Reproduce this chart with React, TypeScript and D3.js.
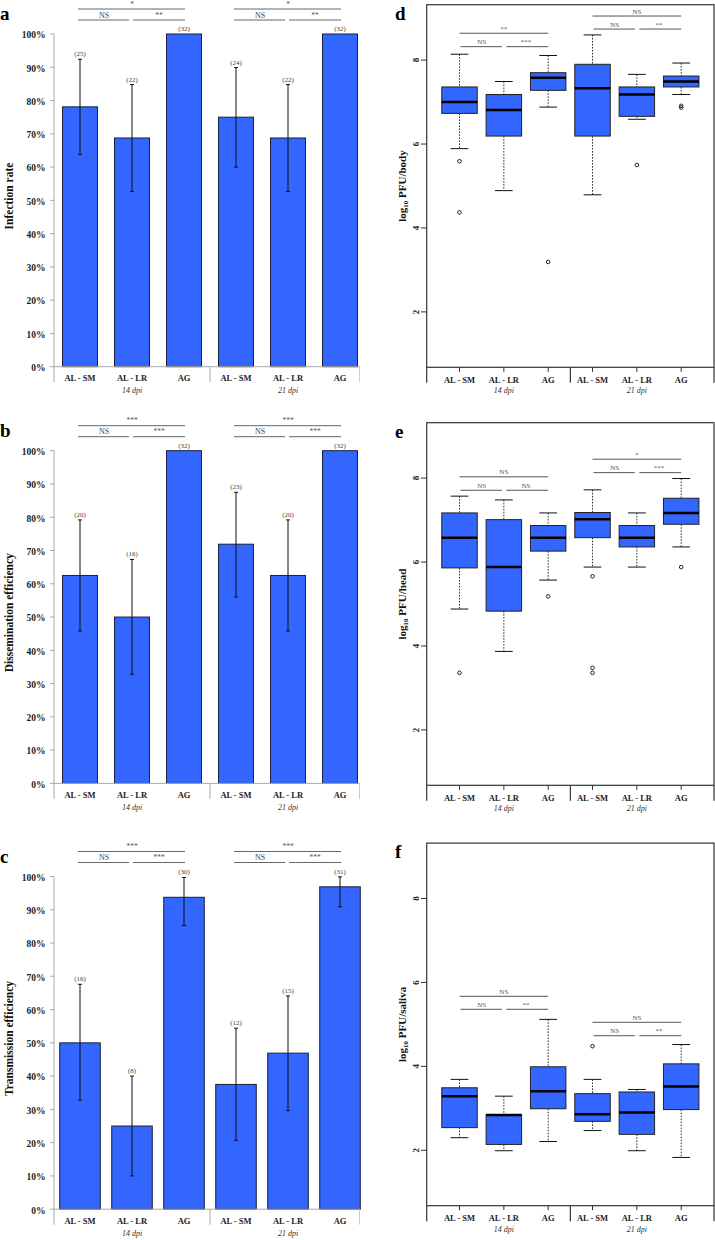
import React from 'react';
import * as d3 from 'd3';

const categories = ["AL - SM", "AL - LR", "AG", "AL - SM", "AL - LR", "AG"];
const dpiGroups = ["14 dpi", "21 dpi"];
const percentTicks = [0, 10, 20, 30, 40, 50, 60, 70, 80, 90, 100];
const logTicks = [2, 4, 6, 8];

// panel a: infection rate
const infectionRate = [78.1, 68.75, 100, 75.0, 68.75, 100];
const infectionLow = [63.8, 52.7, null, 60.0, 52.7, null];
const infectionHigh = [92.4, 84.8, null, 89.9, 84.8, null];
const infectionN = [25, 22, 32, 24, 22, 32];
const infectionSig = [["*", "NS", "**"], ["*", "NS", "**"]];

// panel b: dissemination efficiency
const dissemRate = [62.5, 50.0, 100, 71.9, 62.5, 100];
const dissemLow = [45.8, 32.8, null, 56.0, 45.8, null];
const dissemHigh = [79.2, 67.3, null, 87.5, 79.2, null];
const dissemN = [20, 16, 32, 23, 20, 32];
const dissemSig = [["***", "NS", "***"], ["***", "NS", "***"]];

// panel c: transmission efficiency
const transRate = [50.0, 25.0, 93.75, 37.5, 46.9, 96.9];
const transLow = [32.8, 10.0, 85.3, 20.7, 29.6, 90.9];
const transHigh = [67.6, 40.0, 99.7, 54.4, 64.1, 99.9];
const transN = [16, 8, 30, 12, 15, 31];
const transSig = [["***", "NS", "***"], ["***", "NS", "***"]];

// box stats: [whiskerLow, q1, median, q3, whiskerHigh]
const bodyStats = [
  [5.89, 6.73, 7.0, 7.36, 8.14],
  [4.89, 6.19, 6.81, 7.18, 7.49],
  [6.88, 7.28, 7.58, 7.70, 8.11],
  [4.79, 6.19, 7.33, 7.90, 8.6],
  [6.59, 6.66, 7.18, 7.36, 7.66],
  [7.18, 7.36, 7.49, 7.62, 7.93],
];
const bodyOutliers = [[5.59, 4.37], [], [3.19], [], [5.5], [6.91, 6.87]];
const bodySig = [["**", "NS", "***"], ["NS", "NS", "**"]];
const bodySigLevels = [[8.64, 8.32], [9.05, 8.74]];

const headStats = [
  [4.88, 5.86, 6.58, 7.17, 7.57],
  [3.87, 4.83, 5.88, 7.01, 7.48],
  [5.57, 6.26, 6.58, 6.87, 7.17],
  [5.88, 6.58, 7.02, 7.18, 7.72],
  [5.88, 6.36, 6.58, 6.87, 7.17],
  [6.36, 6.9, 7.17, 7.52, 7.99],
];
const headOutliers = [[3.36], [], [5.18], [5.66, 3.48, 3.36], [], [5.88]];
const headSig = [["NS", "NS", "NS"], ["*", "NS", "***"]];
const headSigLevels = [[8.03, 7.71], [8.45, 8.13]];

const salivaStats = [
  [2.30, 2.54, 3.29, 3.49, 3.69],
  [1.99, 2.14, 2.84, 2.85, 3.29],
  [2.21, 2.99, 3.41, 3.99, 5.12],
  [2.47, 2.69, 2.86, 3.35, 3.69],
  [1.99, 2.38, 2.90, 3.39, 3.45],
  [1.83, 2.97, 3.52, 4.06, 4.52],
];
const salivaOutliers = [[], [], [], [4.48], [], []];
const salivaSig = [["NS", "NS", "**"], ["NS", "NS", "**"]];
const salivaSigLevels = [[5.67, 5.36], [5.05, 4.73]];

const FONT = "'Liberation Serif', 'Times New Roman', serif";
const BLUE = "#3366FF";

function BarPanel({ letter, yLabel, values, lows, highs, counts, sig, dy, padInner }) {
  const x = d3.scaleBand<number>().domain(d3.range(6)).range([54, 366]).paddingInner(padInner).paddingOuter(padInner / 2);
  const y = d3.scaleLinear().domain([0, 100]).range([366.7 + dy, 34 + dy]);
  const cx = (i: number) => (x(i) as number) + x.bandwidth() / 2;
  const y0 = y(0);
  const sepX = (x(2) as number) + x.bandwidth() + (x.step() - x.bandwidth()) / 2;
  return (
    <g fontFamily={FONT}>
      <text x={0} y={20 + dy} fontSize={19} fontWeight="bold">{letter}</text>
      <text transform={`translate(12.5,${196 + dy}) rotate(-90)`} textAnchor="middle" fontSize={11.5} fontWeight="bold" fill="#111">{yLabel}</text>
      {percentTicks.map(t => (
        <g key={t}>
          <line x1={50} x2={54} y1={y(t)} y2={y(t)} stroke="#aaa" />
          <text x={45.5} y={y(t) + 4.3} textAnchor="end" fontSize={9.5} fontWeight="bold" fill="#222">{t}%</text>
        </g>
      ))}
      {values.map((v, i) => (
        <rect key={i} x={x(i)} y={y(v)} width={x.bandwidth()} height={y0 - y(v)} fill={BLUE} stroke="#1a1f3a" strokeWidth={1} />
      ))}
      {values.map((v, i) => lows[i] == null ? null : (
        <g key={i} stroke="#111" strokeWidth={1}>
          <line x1={cx(i)} x2={cx(i)} y1={y(highs[i])} y2={y(lows[i])} />
          <line x1={cx(i) - 2} x2={cx(i) + 2} y1={y(highs[i])} y2={y(highs[i])} />
          <line x1={cx(i) - 2} x2={cx(i) + 2} y1={y(lows[i])} y2={y(lows[i])} />
        </g>
      ))}
      {counts.map((n, i) => (
        <text key={i} x={cx(i)} y={(highs[i] == null ? y(values[i]) : y(highs[i])) - 3} textAnchor="middle" fontSize={7} fill="#444">({n})</text>
      ))}
      <line x1={54} x2={54} y1={y(100)} y2={y0 + 15.5} stroke="#aaa" />
      <line x1={54} x2={360} y1={y0} y2={y0} stroke="#aaa" />
      <line x1={sepX} x2={sepX} y1={y0} y2={y0 + 15.5} stroke="#aaa" />
      <line x1={359.5} x2={359.5} y1={y0} y2={y0 + 15.5} stroke="#ccc" />
      {categories.map((c, i) => (
        <text key={i} x={cx(i)} y={y0 + 14.3} textAnchor="middle" fontSize={8.5} fontWeight="bold" fill="#222">{c}</text>
      ))}
      {dpiGroups.map((g, k) => (
        <text key={g} x={cx(3 * k + 1)} y={y0 + 26.3} textAnchor="middle" fontSize={8} fontStyle="italic" fill="#333">{g}</text>
      ))}
      {sig.map((s, k) => {
        const a = cx(3 * k), b = cx(3 * k + 1), c = cx(3 * k + 2);
        const yt = y(100) - 25, yl = y(100) - 14;
        return (
          <g key={k}>
            <line x1={a - 2} x2={c + 1} y1={yt} y2={yt} stroke="#666" />
            <line x1={a - 2} x2={b - 3} y1={yl} y2={yl} stroke="#666" />
            <line x1={b + 1} x2={c + 1} y1={yl} y2={yl} stroke="#666" />
            <text x={(a + c) / 2} y={yt - 2.5} textAnchor="middle" fontSize={7.5} fill="#555">{s[0]}</text>
            <text x={(a + b) / 2 - 2} y={yl - 2.5} textAnchor="middle" fontSize={8} fill="#444">{s[1]}</text>
            <text x={(b + c) / 2 + 1} y={yl - 2.5} textAnchor="middle" fontSize={7.5} fill="#555">{s[2]}</text>
          </g>
        );
      })}
    </g>
  );
}

function BoxPanel({ letter, unit, stats, outliers, sig, sigLevels, dy }) {
  const x = d3.scaleLinear().domain([0.26, 6.74]).range([426.7, 714]);
  const y = d3.scaleLinear().domain([0.68, 9.32]).range([367.3 + dy, 4.7 + dy]);
  const bw = (x(1.4) - x(1)) ;
  const y0 = y(0.68), yTop = y(9.32);
  return (
    <g fontFamily={FONT}>
      <text x={395} y={19.5 + dy} fontSize={19} fontWeight="bold">{letter}</text>
      <text transform={`translate(405.5,${186 + dy}) rotate(-90)`} textAnchor="middle" fontSize={11} fontWeight="bold" fill="#111">
        log<tspan fontSize={7} dy={2}>10</tspan><tspan dy={-2}> PFU/{unit}</tspan>
      </text>
      <rect x={426.7} y={yTop} width={714 - 426.7} height={y0 - yTop} fill="none" stroke="#333" strokeWidth={1.2} />
      {logTicks.map(t => (
        <g key={t}>
          <line x1={421} x2={426.7} y1={y(t)} y2={y(t)} stroke="#333" />
          <text transform={`translate(418.5,${y(t)}) rotate(-90)`} textAnchor="middle" fontSize={9} fontWeight="bold" fill="#222">{t}</text>
        </g>
      ))}
      {stats.map((s, i) => {
        const c = x(i + 1);
        return (
          <g key={i}>
            <line x1={c} x2={c} y1={y(s[4])} y2={y(s[3])} stroke="#333" strokeDasharray="1.6,1.4" />
            <line x1={c} x2={c} y1={y(s[1])} y2={y(s[0])} stroke="#333" strokeDasharray="1.6,1.4" />
            <line x1={c - bw / 2} x2={c + bw / 2} y1={y(s[4])} y2={y(s[4])} stroke="#111" />
            <line x1={c - bw / 2} x2={c + bw / 2} y1={y(s[0])} y2={y(s[0])} stroke="#111" />
            <rect x={c - bw} y={y(s[3])} width={2 * bw} height={y(s[1]) - y(s[3])} fill={BLUE} stroke="#222" strokeWidth={1} />
            <line x1={c - bw} x2={c + bw} y1={y(s[2])} y2={y(s[2])} stroke="#000" strokeWidth={2.5} />
            {outliers[i].map((o, j) => (
              <circle key={j} cx={c} cy={y(o)} r={1.8} fill="none" stroke="#222" strokeWidth={1} />
            ))}
          </g>
        );
      })}
      {categories.map((cat, i) => (
        <g key={i}>
          <line x1={x(i + 1)} x2={x(i + 1)} y1={y0} y2={y0 + 4.5} stroke="#333" />
          <text x={x(i + 1)} y={y0 + 15.3} textAnchor="middle" fontSize={8.5} fontWeight="bold" fill="#222">{cat}</text>
        </g>
      ))}
      {[0.26, 3.5, 6.74].map((v, k) => (
        <line key={k} x1={x(v)} x2={x(v)} y1={y0} y2={y0 + 15.5} stroke="#333" strokeWidth={1.2} />
      ))}
      {dpiGroups.map((g, k) => (
        <text key={g} x={x(3 * k + 2)} y={y0 + 26} textAnchor="middle" fontSize={8} fontStyle="italic" fill="#333">{g}</text>
      ))}
      {sig.map((s, k) => {
        const a = x(3 * k + 1), b = x(3 * k + 2), c = x(3 * k + 3);
        const yt = y(sigLevels[k][0]), yl = y(sigLevels[k][1]);
        return (
          <g key={k}>
            <line x1={a} x2={c} y1={yt} y2={yt} stroke="#555" />
            <line x1={a + 1} x2={b - 2} y1={yl} y2={yl} stroke="#555" />
            <line x1={b + 2.5} x2={c} y1={yl} y2={yl} stroke="#555" />
            <text x={(a + c) / 2} y={yt - 2.5} textAnchor="middle" fontSize={7} fill="#555">{s[0]}</text>
            <text x={(a + b) / 2} y={yl - 2.5} textAnchor="middle" fontSize={7} fill="#555">{s[1]}</text>
            <text x={(b + c) / 2} y={yl - 2.5} textAnchor="middle" fontSize={7} fill="#555">{s[2]}</text>
          </g>
        );
      })}
    </g>
  );
}

export default function App() {
  return (
    <div style={{ position: 'absolute', left: 0, top: 0 }}>
      <svg width={715} height={1240} style={{ display: 'block', background: '#fff' }}>
        <BarPanel letter="a" yLabel="Infection rate" values={infectionRate} lows={infectionLow} highs={infectionHigh} counts={infectionN} sig={infectionSig} dy={0} padInner={0.327} />
        <BarPanel letter="b" yLabel="Dissemination efficiency" values={dissemRate} lows={dissemLow} highs={dissemHigh} counts={dissemN} sig={dissemSig} dy={416.7} padInner={0.327} />
        <BarPanel letter="c" yLabel="Transmission efficiency" values={transRate} lows={transLow} highs={transHigh} counts={transN} sig={transSig} dy={842.5} padInner={0.22} />
        <BoxPanel letter="d" unit="body" stats={bodyStats} outliers={bodyOutliers} sig={bodySig} sigLevels={bodySigLevels} dy={0} />
        <BoxPanel letter="e" unit="head" stats={headStats} outliers={headOutliers} sig={headSig} sigLevels={headSigLevels} dy={418} />
        <BoxPanel letter="f" unit="saliva" stats={salivaStats} outliers={salivaOutliers} sig={salivaSig} sigLevels={salivaSigLevels} dy={838.4} />
      </svg>
    </div>
  );
}
